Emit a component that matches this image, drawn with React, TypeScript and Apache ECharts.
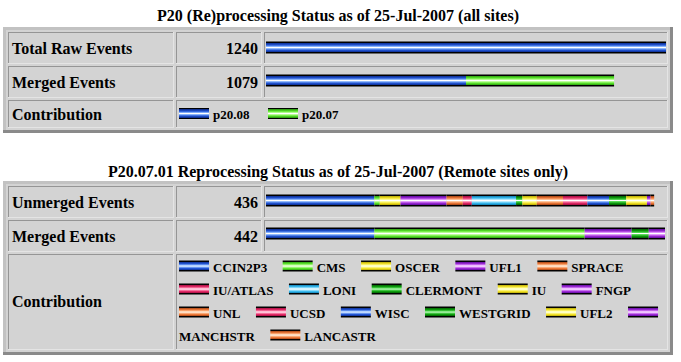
import React, { useEffect, useRef } from 'react';
import * as echarts from 'echarts';

// ---------- data ----------
const title1 = 'P20 (Re)processing Status as of 25-Jul-2007 (all sites)';
const title2 = 'P20.07.01 Reprocessing Status as of 25-Jul-2007 (Remote sites only)';

const rows1 = ['Total Raw Events', 'Merged Events'];
const totals1 = [1240, 1079];
const versions = ['p20.08', 'p20.07'];
const p2008Values = [1240, 620];
const p2007Values = [0, 459];

const rows2 = ['Unmerged Events', 'Merged Events'];
const totals2 = [436, 442];
const sites = [
  'CCIN2P3', 'CMS', 'OSCER', 'UFL1', 'SPRACE', 'IU/ATLAS', 'LONI', 'CLERMONT', 'IU',
  'FNGP', 'UNL', 'UCSD', 'WISC', 'WESTGRID', 'UFL2', 'MANCHSTR', 'LANCASTR',
];
const unmergedBySite = [120, 6, 23, 51, 18, 10, 49, 7, 16, 0, 29, 27, 24, 19, 23, 4, 4];
const mergedBySite = [120, 233, 0, 52, 0, 0, 0, 19, 0, 18, 0, 0, 0, 0, 0, 0, 0];
const contributionLabel = 'Contribution';

// ---------- styles ----------
type Pal = { base: string; light: string; dark: string };
const PAL: Record<string, Pal> = {
  blue: { base: '#2458d8', light: '#9cc4ff', dark: '#0c2c8c' },
  green: { base: '#5ee82e', light: '#c8ffa8', dark: '#2c9c10' },
  yellow: { base: '#f4e42c', light: '#ffffa8', dark: '#b4a400' },
  purple: { base: '#a02cd8', light: '#e8a8ff', dark: '#5c0c9c' },
  orange: { base: '#f07c3c', light: '#ffcca4', dark: '#a04010' },
  pink: { base: '#e42c68', light: '#ffa4c4', dark: '#a00c40' },
  cyan: { base: '#3cbcf0', light: '#c4f0ff', dark: '#0c7cb0' },
  dkgreen: { base: '#10a010', light: '#60e060', dark: '#005c00' },
};
const versionPal = ['blue', 'green'];
const sitePal = [
  'blue', 'green', 'yellow', 'purple', 'orange', 'pink', 'cyan', 'dkgreen', 'yellow',
  'purple', 'orange', 'pink', 'blue', 'dkgreen', 'yellow', 'purple', 'orange',
];

const FONT = '"Liberation Serif", "Times New Roman", serif';

function grad(key: string) {
  const p = PAL[key];
  return new echarts.graphic.LinearGradient(0, 0, 0, 1, [
    { offset: 0, color: '#000000' },
    { offset: 0.09, color: '#000000' },
    { offset: 0.12, color: p.dark },
    { offset: 0.3, color: p.base },
    { offset: 0.44, color: p.light },
    { offset: 0.5, color: '#ffffff' },
    { offset: 0.57, color: p.light },
    { offset: 0.72, color: p.base },
    { offset: 0.88, color: p.dark },
    { offset: 0.91, color: '#000000' },
    { offset: 1, color: '#000000' },
  ]);
}

let measureCtx: CanvasRenderingContext2D | null = null;
function textWidth(s: string, font: string) {
  if (!measureCtx) measureCtx = document.createElement('canvas').getContext('2d');
  if (!measureCtx) return s.length * 8;
  measureCtx.font = font;
  return measureCtx.measureText(s).width;
}

function txt(text: string, x: number, y: number, size: number, align: string = 'left') {
  return {
    type: 'text',
    x,
    y,
    z: 10,
    silent: true,
    style: {
      text,
      fill: '#000',
      font: `bold ${size}px ${FONT}`,
      align,
      textAlign: align,
      verticalAlign: 'middle',
      textVerticalAlign: 'middle',
    },
  };
}

function rect(x: number, y: number, w: number, h: number, fill: any, z = 0) {
  return { type: 'rect', z, silent: true, shape: { x, y, width: w, height: h }, style: { fill } };
}

const COLS: [number, number][] = [[8, 174], [176, 262], [264, 668]];

function tableFrame(y0: number, y1: number, rows: [number, number][]) {
  const x0 = 3, x1 = 673;
  const els: any[] = [];
  els.push(rect(x0, y0, x1 - x0, y1 - y0, '#d3d3d3'));
  // outer bevel
  els.push(rect(x0, y0, x1 - x0, 3, '#c2c2c2'));
  els.push(rect(x0, y0, 3, y1 - y0, '#c2c2c2'));
  els.push(rect(x0, y1 - 3, x1 - x0, 3, '#8a8a8a'));
  els.push(rect(x1 - 3, y0, 3, y1 - y0, '#8a8a8a'));
  rows.forEach(([ry0, ry1], ri) => {
    const cells: [number, number][] = ri === rows.length - 1 ? [COLS[0], [COLS[1][0], COLS[2][1]]] : COLS;
    cells.forEach(([cx0, cx1]) => {
      els.push(rect(cx0, ry0, cx1 - cx0, 1, '#959595', 1));
      els.push(rect(cx0, ry0, 1, ry1 - ry0, '#959595', 1));
      els.push(rect(cx0, ry1 - 1, cx1 - cx0, 1, '#e4e4e4', 1));
      els.push(rect(cx1 - 1, ry0, 1, ry1 - ry0, '#e4e4e4', 1));
    });
  });
  return els;
}

function legendFlow(names: string[], pals: string[], startX: number, maxX: number, y: number, lineH: number, gap: number) {
  const els: any[] = [];
  const font = `bold 13px ${FONT}`;
  let x = startX;
  let line = 0;
  names.forEach((n, i) => {
    if (x + 30 > maxX && x > startX) { x = startX; line++; }
    const cy = y + line * lineH;
    els.push(rect(x, cy - 6.5, 30, 11, grad(pals[i]), 5));
    x += 34;
    const w = textWidth(n, font);
    if (x + w > maxX) { x = startX; line++; }
    els.push(txt(n, x, y + line * lineH, 13));
    x += w + gap;
  });
  return els;
}

export default function App() {
  const ref = useRef<HTMLDivElement>(null);
  useEffect(() => {
    if (!ref.current) return;
    const chart = echarts.init(ref.current, null, { renderer: 'svg' });

    const t1Rows: [number, number][] = [[32, 64], [66, 98], [100, 128]];
    const t2Rows: [number, number][] = [[186, 218], [220, 252], [254, 350]];

    const graphics: any[] = [
      ...tableFrame(27, 133, t1Rows),
      ...tableFrame(181, 355, t2Rows),
      txt(title1, 338, 15, 16, 'center'),
      txt(title2, 338, 171, 16, 'center'),
      ...rows1.map((r, i) => txt(r, 12, (t1Rows[i][0] + t1Rows[i][1]) / 2, 16)),
      ...totals1.map((v, i) => txt(String(v), 258, (t1Rows[i][0] + t1Rows[i][1]) / 2, 16, 'right')),
      txt(contributionLabel, 12, 114.5, 16),
      ...rows2.map((r, i) => txt(r, 12, (t2Rows[i][0] + t2Rows[i][1]) / 2, 16)),
      ...totals2.map((v, i) => txt(String(v), 258, (t2Rows[i][0] + t2Rows[i][1]) / 2, 16, 'right')),
      txt(contributionLabel, 12, 301, 16),
      ...legendFlow(versions, versionPal, 179, 664, 114.5, 23, 18.5),
      ...legendFlow(sites, sitePal, 179, 664, 267, 23, 15.5),
    ];

    const hiddenValueAxis = (gridIndex: number, max: number) => ({
      type: 'value', gridIndex, min: 0, max,
      show: false, splitLine: { show: false },
    });
    const catAxis = (gridIndex: number, data: string[]) => ({
      type: 'category', gridIndex, data, inverse: true, show: false,
    });

    const series: any[] = [
      ...versions.map((v, i) => ({
        name: v, type: 'bar', stack: 't1', xAxisIndex: 0, yAxisIndex: 0,
        barWidth: 12, silent: true,
        itemStyle: { color: grad(versionPal[i]) },
        data: [p2008Values, p2007Values][i],
      })),
      ...sites.map((s, i) => ({
        name: s, type: 'bar', stack: 't2', xAxisIndex: 1, yAxisIndex: 1,
        barWidth: 12, silent: true,
        itemStyle: { color: grad(sitePal[i]) },
        data: [unmergedBySite[i], mergedBySite[i]],
      })),
    ];

    chart.setOption({
      animation: false,
      backgroundColor: '#ffffff',
      grid: [
        { left: 266, top: 31, width: 400, height: 66 },
        { left: 266, top: 184, width: 399, height: 66 },
      ],
      xAxis: [hiddenValueAxis(0, totals1[0]), hiddenValueAxis(1, totals2[1])],
      yAxis: [catAxis(0, rows1), catAxis(1, rows2)],
      series,
      graphic: { elements: graphics },
    });
    return () => chart.dispose();
  }, []);
  return (
    <div
      ref={ref}
      style={{ position: 'fixed', left: 0, top: 0, width: 681, height: 362, background: '#fff' }}
    />
  );
}
